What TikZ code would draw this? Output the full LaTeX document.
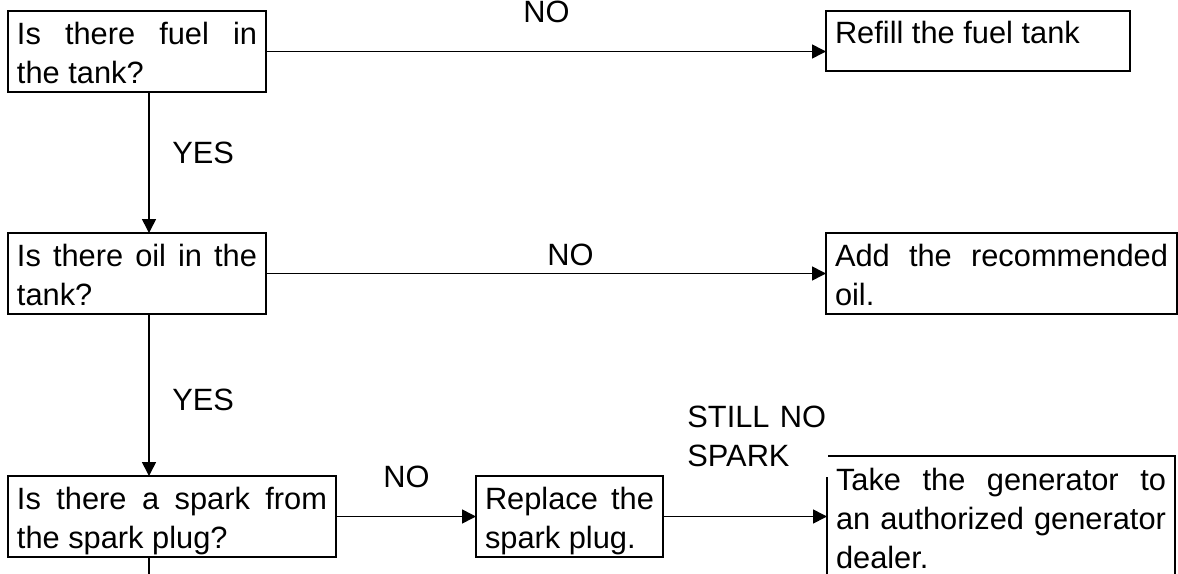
\documentclass[tikz,border=0pt]{standalone}
\usepackage{fontspec}
\setmainfont{Liberation Sans}
\usetikzlibrary{arrows.meta}
\hyphenpenalty=10000

\begin{document}
\begin{tikzpicture}[x=0.5pt,y=-0.5pt,
  font=\fontsize{15.4pt}{19.5pt}\selectfont,
  box/.style={draw,line width=0.8pt,outer sep=0pt,anchor=north west,align=justify,
    inner xsep=4.5pt,inner ysep=0pt,text height=16.5pt,text depth=24pt},
  arr/.style={line width=0.8pt,-{Triangle[length=7pt,width=7pt]}},
  lbl/.style={anchor=base west,inner sep=0pt}]
\useasboundingbox (0,0) rectangle (1178,573);
\coordinate (spine) at (149,0);
\coordinate (exit) at (149,590);
%question boxes
\node[box,text width=120pt] (fuel) at (8,11) {Is there fuel in\linebreak the tank?};
\node[box,text width=120pt] (oil) at (8,233) {Is there oil in the\linebreak tank?};
\node[box,text width=155pt] (spark) at (8,476) {Is there a spark from\linebreak the spark plug?};
%answer boxes
\node[box,text width=143pt,text height=16pt,text depth=14pt] (refill) at (826,11) {Refill the fuel tank};
\node[box,text width=166.5pt] (addoil) at (826,233) {Add the recommended\linebreak oil.};
\node[box,text width=84.5pt] (replace) at (476,476) {Replace the\linebreak spark plug.};
\node[box,text width=165pt,text height=17pt,text depth=60pt] (dealer) at (827,456) {Take the generator to\linebreak an authorized generator\linebreak dealer.};
%labels
\node[lbl] (no1) at (523,22) {NO};
\node[lbl] (no2) at (547,265) {NO};
\node[lbl] (no3) at (383,487) {NO};
\node[lbl] (yes1) at (172,163) {YES};
\node[lbl] (yes2) at (172,410) {YES};
\node[lbl,fill=white,align=left,text width=70.5pt,text depth=25pt] (still) at (687,427) {STILL NO\\SPARK};
%arrows
\draw[arr] (fuel.east) -- (fuel.east -| refill.west);
\draw[arr] (oil.east) -- (addoil.west);
\draw[arr] (spark.east) -- (replace.west);
\draw[arr] (replace.east) -- (replace.east -| dealer.west);
\draw[arr] (fuel.south -| spine) -- (oil.north -| spine);
\draw[arr] (oil.south -| spine) -- (spark.north -| spine);
\draw[line width=0.8pt] (spark.south -| spine) -- (exit);
\end{tikzpicture}
\end{document}
